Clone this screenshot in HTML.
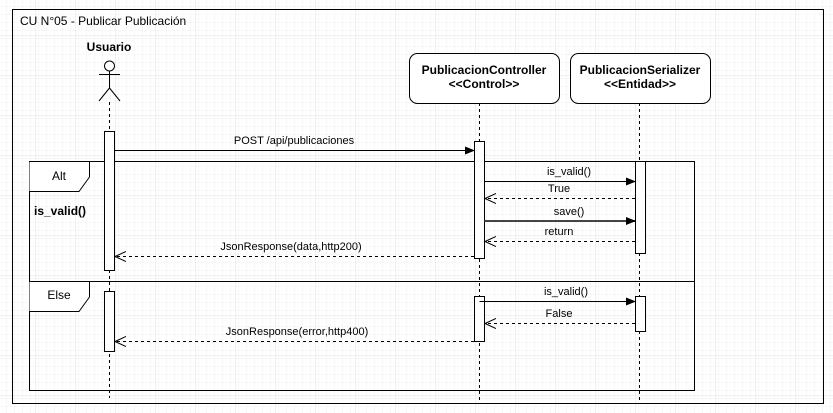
<!DOCTYPE html>
<html><head><meta charset="utf-8"><style>
html,body{margin:0;padding:0;background:#fff}
svg{display:block;font-family:"Liberation Sans",Arial,sans-serif}
</style></head><body>
<svg width="833" height="413" viewBox="0 0 833 413" xmlns="http://www.w3.org/2000/svg">
<defs>
<pattern id="mg" width="8" height="8" patternUnits="userSpaceOnUse" x="3" y="3">
<path d="M8 0H0V8" fill="none" stroke="#f0f0f0" stroke-width="1"/>
</pattern>
<pattern id="Mg" width="40" height="40" patternUnits="userSpaceOnUse" x="35" y="35">
<rect width="40" height="40" fill="url(#mg)"/>
<path d="M40 0H0V40" fill="none" stroke="#e0e0e0" stroke-width="1"/>
</pattern>
<marker id="fa" markerWidth="10" markerHeight="10" refX="9" refY="5" orient="auto" markerUnits="userSpaceOnUse"><path d="M0 1L10 5L0 9Z" fill="#000"/></marker>
<marker id="oa" markerWidth="12" markerHeight="12" refX="11" refY="6" orient="auto" markerUnits="userSpaceOnUse"><path d="M0 1L11 6L0 11" fill="none" stroke="#000"/></marker>
</defs>
<rect width="833" height="413" fill="url(#Mg)"/>
<rect x="12.5" y="9.5" width="811" height="394" fill="none" stroke="#000"/>
<text x="20" y="25" font-size="12">CU N°05 - Publicar Publicación</text>

<!-- Usuario -->
<text x="109" y="51" font-size="12" font-weight="bold" text-anchor="middle">Usuario</text>
<g stroke="#000" fill="none">
<circle cx="109.5" cy="66" r="5" fill="#fff"/>
<path d="M109.5 71V88M99 74.5H120M109.5 88L99 101M109.5 88L120 101"/>
</g>
<g stroke="#000" stroke-dasharray="3,3">
<line x1="109.5" y1="102" x2="109.5" y2="398"/>
<line x1="479.5" y1="103" x2="479.5" y2="400"/>
<line x1="639.5" y1="103" x2="639.5" y2="400"/>
</g>

<!-- heads -->
<rect x="409.5" y="53.5" width="150" height="50" rx="8" fill="#fff" stroke="#000"/>
<text x="484" y="74" font-size="12" font-weight="bold" text-anchor="middle">PublicacionController</text>
<text x="484" y="88" font-size="12" font-weight="bold" text-anchor="middle">&lt;&lt;Control&gt;&gt;</text>
<rect x="570.5" y="53.5" width="140" height="50" rx="8" fill="#fff" stroke="#000"/>
<text x="640" y="74" font-size="12" font-weight="bold" text-anchor="middle">PublicacionSerializer</text>
<text x="640" y="88" font-size="12" font-weight="bold" text-anchor="middle">&lt;&lt;Entidad&gt;&gt;</text>

<!-- alt frame -->
<rect x="29.5" y="161.5" width="665" height="229" fill="none" stroke="#000"/>
<line x1="29.5" y1="281.5" x2="694.5" y2="281.5" stroke="#000"/>
<path d="M29.5 161.5H89.5V177L79 191.5H29.5" fill="#fff" stroke="#000"/>
<text x="59" y="180" font-size="12" text-anchor="middle">Alt</text>
<path d="M29.5 281.5H89.5V297L79 311.5H29.5" fill="#fff" stroke="#000"/>
<text x="59" y="299" font-size="12" text-anchor="middle">Else</text>
<text x="34" y="215" font-size="12" font-weight="bold">is_valid()</text>

<!-- activations -->
<g fill="#fff" stroke="#000">
<rect x="104.5" y="131.5" width="10" height="139"/>
<rect x="104.5" y="291.5" width="10" height="60"/>
<rect x="474.5" y="141.5" width="10" height="117"/>
<rect x="474.5" y="296.5" width="10" height="45"/>
<rect x="635.5" y="161.5" width="10" height="92"/>
<rect x="635.5" y="296.5" width="10" height="35"/>
</g>

<!-- messages -->
<g font-size="11" text-anchor="middle">
<line x1="114.5" y1="150.5" x2="474" y2="150.5" stroke="#000" marker-end="url(#fa)"/>
<text x="294" y="144">POST /api/publicaciones</text>
<line x1="484.5" y1="181.5" x2="635" y2="181.5" stroke="#000" marker-end="url(#fa)"/>
<text x="569" y="175">is_valid()</text>
<line x1="635" y1="198.5" x2="485" y2="198.5" stroke="#000" stroke-dasharray="3,3" marker-end="url(#oa)"/>
<text x="559" y="192">True</text>
<line x1="484.5" y1="221" x2="635" y2="221" stroke="#444" stroke-width="2" marker-end="url(#fa)"/>
<text x="569" y="215">save()</text>
<line x1="635" y1="241.5" x2="485" y2="241.5" stroke="#000" stroke-dasharray="3,3" marker-end="url(#oa)"/>
<text x="559" y="235">return</text>
<line x1="474" y1="256.5" x2="115" y2="256.5" stroke="#000" stroke-dasharray="3,3" marker-end="url(#oa)"/>
<text x="291" y="250">JsonResponse(data,http200)</text>
<line x1="479.5" y1="301.5" x2="635" y2="301.5" stroke="#000" marker-end="url(#fa)"/>
<text x="566" y="295">is_valid()</text>
<line x1="635" y1="323.5" x2="485" y2="323.5" stroke="#000" stroke-dasharray="3,3" marker-end="url(#oa)"/>
<text x="559" y="317">False</text>
<line x1="474" y1="341.5" x2="115" y2="341.5" stroke="#000" stroke-dasharray="3,3" marker-end="url(#oa)"/>
<text x="297" y="335">JsonResponse(error,http400)</text>
</g>
</svg>
</body></html>
